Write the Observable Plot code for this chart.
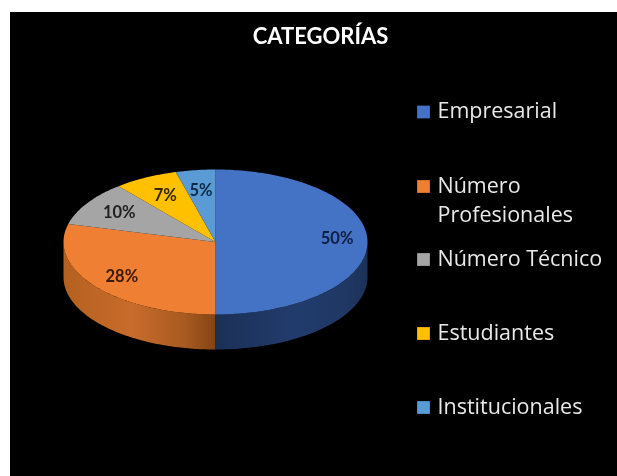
<!DOCTYPE html>
<html>
<head>
<meta charset="utf-8">
<script src="https://cdn.jsdelivr.net/npm/d3@7"></script>
<script src="https://cdn.jsdelivr.net/npm/@observablehq/plot@0.6"></script>
<style>
html,body{margin:0;padding:0;background:#fff;overflow:hidden}
#chart{position:absolute;left:10px;top:12px;width:607px;height:464px;background:#000;overflow:hidden}
#chart svg{display:block;background:#000;filter:blur(0.6px)}
</style>
</head>
<body>
<div id="chart"></div>
<script>
// Data
const title = "CATEGORÍAS";
const categories = ["Empresarial", "Número Profesionales", "Número Técnico", "Estudiantes", "Institucionales"];
const legendLabels = ["Empresarial", "Número\nProfesionales", "Número Técnico", "Estudiantes", "Institucionales"];
const sliceLabels = ["50%", "28%", "10%", "7%", "5%"];
// Slice sizes as measured on the drawn (perspective) pie
const shares = [50, 29, 10, 6.8, 4.2];
const colors = ["#4472c4", "#ef7f33", "#a5a5a5", "#ffc000", "#5b9bd5"];
const labelColors = ["#0d1f45", "#3a1a05", "#222222", "#332600", "#0d2a48"];

// Layout (frame pixels)
const W = 607, H = 464;
const ox = 10, oy = 12;
const depth = 0.483;             // rim height, in units of the ellipse's vertical radius
const legendY = [111.5, 186, 259, 333, 407];
const labelRadius = [0.8, 0.78, 0.75, 0.72, 0.72];
const labelLift = [0.05, 0, 0, 0, 0];

// Pie geometry through d3.pie
const pie = d3.pie().sort(null).value(d => d)(shares);
const arcPts = (a0, a1, dy = 0) => {
  const n = Math.max(2, Math.ceil((a1 - a0) * 60));
  return d3.range(n + 1).map(i => {
    const a = a0 + (a1 - a0) * i / n;
    return {x: Math.sin(a), y: Math.cos(a) - dy};
  });
};
const topFace = pie.flatMap((s, i) =>
  [{x: 0, y: 0}, ...arcPts(s.startAngle, s.endAngle), {x: 0, y: 0}].map(p => ({...p, cat: categories[i]}))
);
const rim = (a0, a1) => [...arcPts(a0, a1), ...arcPts(a0, a1, depth).reverse()];
const rimBlue = rim(Math.PI / 2, Math.PI);
const rimOrange = rim(Math.PI, 1.5 * Math.PI);
const labels = pie.map((s, i) => {
  const m = (s.startAngle + s.endAngle) / 2;
  return {
    x: labelRadius[i] * Math.sin(m),
    y: labelRadius[i] * Math.cos(m) + labelLift[i],
    text: sliceLabels[i],
    c: labelColors[i]
  };
});

const gradients = () => {
  const ns = "http://www.w3.org/2000/svg";
  const defs = document.createElementNS(ns, "defs");
  const add = (id, x1, x2, stops) => {
    const g = document.createElementNS(ns, "linearGradient");
    g.setAttribute("id", id);
    g.setAttribute("gradientUnits", "userSpaceOnUse");
    g.setAttribute("x1", x1); g.setAttribute("x2", x2);
    g.setAttribute("y1", 0); g.setAttribute("y2", 0);
    stops.forEach(([o, c]) => {
      const s = document.createElementNS(ns, "stop");
      s.setAttribute("offset", o); s.setAttribute("stop-color", c);
      g.appendChild(s);
    });
    defs.appendChild(g);
  };
  add("rimO", 53, 205, [[0, "#b5601f"], [0.45, "#c86c2b"], [0.8, "#a85a20"], [1, "#834413"]]);
  add("rimB", 205, 357, [[0, "#1b3056"], [0.5, "#213b6c"], [0.85, "#1f3864"], [1, "#1b3158"]]);
  return defs;
};

const legendMarks = categories.flatMap((c, i) => [
  Plot.dot([c], {
    frameAnchor: "top-left", dx: 423 - ox, dy: legendY[i] - oy,
    symbol: "square", r: 7.2, fill: d => d
  }),
  Plot.text([legendLabels[i]], {
    text: d => d, frameAnchor: "top-left", dx: 437 - ox, dy: legendY[i] - oy - 14.5,
    textAnchor: "start", lineAnchor: "top", lineHeight: 1.35,
    fontFamily: "'Open Sans'", fontSize: 21.5, fill: "#e8e8e8"
  })
]);

const chart = Plot.plot({
  width: W, height: H,
  margin: 0,
  style: {background: "#000", color: "#fff"},
  x: {domain: [-1, 1], range: [63 - ox, 367 - ox], axis: null},
  y: {domain: [1, -1], range: [169 - oy, 314 - oy], axis: null},
  color: {type: "ordinal", domain: categories, range: colors},
  marks: [
    gradients,
    Plot.line(rimOrange, {x: "x", y: "y", fill: "url(#rimO)", stroke: "none"}),
    Plot.line(rimBlue, {x: "x", y: "y", fill: "url(#rimB)", stroke: "none"}),
    Plot.line(topFace, {x: "x", y: "y", z: "cat", fill: "cat", stroke: "none"}),
    Plot.text(labels, {
      x: "x", y: "y", text: "text", fill: "c",
      fontFamily: "Lato", fontWeight: "bold", fontSize: 16.5
    }),
    Plot.text([title], {
      text: d => d, frameAnchor: "top", dx: 320 - W / 2 - ox, dy: 36 - oy,
      lineAnchor: "middle", fontFamily: "Lato", fontWeight: "bold", fontSize: 22, fill: "#fff"
    }),
    ...legendMarks
  ]
});
document.getElementById("chart").appendChild(chart);
</script>
</body>
</html>
